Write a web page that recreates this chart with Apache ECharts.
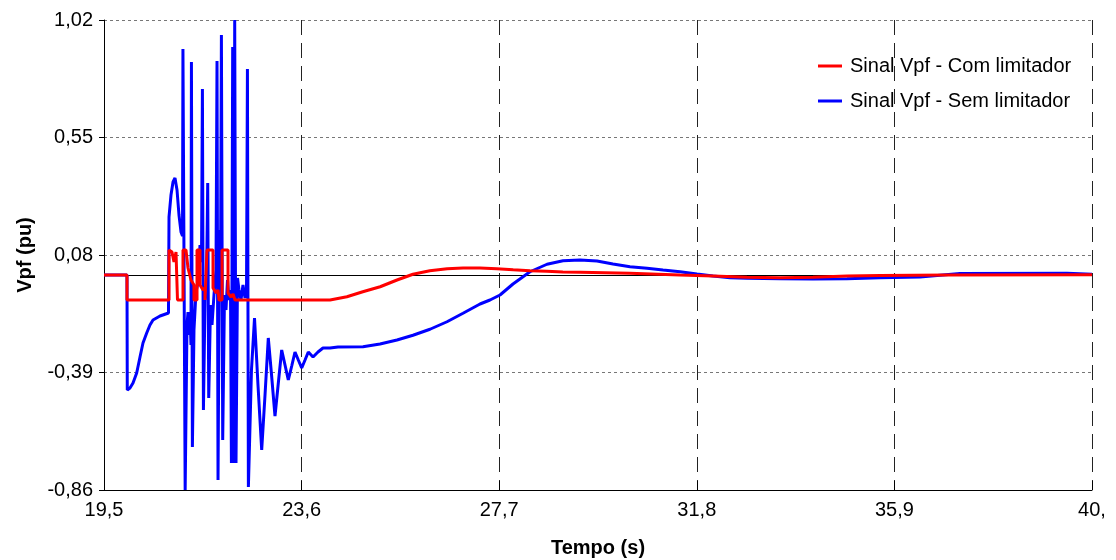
<!DOCTYPE html>
<html>
<head>
<meta charset="utf-8">
<title>Sinal Vpf</title>
<script src="https://cdn.jsdelivr.net/npm/echarts@6/dist/echarts.min.js"></script>
<style>
  html, body { margin: 0; padding: 0; background: #ffffff; }
  #chart { width: 1116px; height: 560px; }
</style>
</head>
<body>
<div id="chart"></div>
<script>
// Tick labels (Portuguese decimal comma)
const xTickLabels = ['19,5', '23,6', '27,7', '31,8', '35,9', '40,'];
const yTickLabels = ['-0,86', '-0,39', '0,08', '0,55', '1,02'];

// Sinal Vpf - Com limitador: time (s) and value (pu)
const comTime = [19.5, 19.977, 19.977, 20.849, 20.849, 20.911, 20.952, 20.994, 21.025, 21.025,
  21.139, 21.139, 21.201, 21.243, 21.305, 21.367, 21.367, 21.43, 21.43, 21.492,
  21.492, 21.554, 21.596, 21.596, 21.637, 21.637, 21.762, 21.762, 21.824, 21.866,
  21.886, 21.949, 21.949, 22.073, 22.073, 22.135, 22.177, 22.218, 24.19, 24.54,
  24.87, 25.23, 25.58, 25.91, 26.26, 26.62, 26.95, 27.3, 27.65, 27.99,
  28.34, 28.69, 29.02, 29.38, 30.41, 31.45, 32.14, 32.84, 33.53, 34.21,
  34.92, 35.6, 37.0, 40.0];
const comVpf = [0.0, 0.0, -0.10, -0.10, 0.10, 0.092, 0.052, 0.092, 0.10, -0.10,
  -0.10, 0.10, 0.10, 0.028, -0.02, -0.04, -0.10, -0.10, 0.10, 0.10,
  -0.04, -0.06, -0.052, -0.10, -0.10, 0.10, 0.10, -0.052, -0.072, -0.06,
  -0.10, -0.10, 0.10, 0.10, -0.072, -0.088, -0.076, -0.10, -0.10, -0.087,
  -0.067, -0.047, -0.02, 0.003, 0.017, 0.025, 0.028, 0.028, 0.025, 0.021,
  0.017, 0.015, 0.012, 0.011, 0.007, 0.0, -0.004, -0.009, -0.011, -0.009,
  -0.004, -0.002, 0.0, 0.001];

// Sinal Vpf - Sem limitador: time (s) and value (pu)
const semTime = [19.5, 19.977, 19.983, 20.039, 20.102, 20.178, 20.247, 20.309, 20.386, 20.454,
  20.517, 20.662, 20.838, 20.849, 20.89, 20.932, 20.973, 21.015, 21.056, 21.098,
  21.129, 21.138, 21.154, 21.184, 21.198, 21.222, 21.243, 21.264, 21.284, 21.305,
  21.314, 21.326, 21.334, 21.346, 21.367, 21.409, 21.45, 21.492, 21.523, 21.542,
  21.554, 21.563, 21.575, 21.596, 21.627, 21.652, 21.664, 21.673, 21.685, 21.71,
  21.741, 21.782, 21.824, 21.845, 21.857, 21.866, 21.878, 21.897, 21.917, 21.936,
  21.948, 21.963, 21.975, 22.0, 22.031, 22.063, 22.094, 22.125, 22.144, 22.156,
  22.17, 22.191, 22.212, 22.224, 22.239, 22.251, 22.27, 22.301, 22.342, 22.384,
  22.426, 22.457, 22.476, 22.488, 22.496, 22.508, 22.56, 22.623, 22.695, 22.772,
  22.841, 22.909, 22.98, 23.048, 23.117, 23.187, 23.256, 23.324, 23.395, 23.463,
  23.532, 23.602, 23.671, 23.739, 23.837, 23.94, 24.044, 24.189, 24.355, 24.874,
  25.227, 25.579, 25.911, 26.264, 26.617, 26.949, 27.302, 27.509, 27.717, 27.986,
  28.339, 28.692, 29.024, 29.377, 29.729, 30.061, 30.414, 30.767, 31.099, 31.452,
  31.804, 32.136, 32.489, 32.842, 33.527, 34.211, 34.917, 35.601, 36.431, 37.261,
  39.481, 40.0];
const semVpf = [0.0, 0.0, -0.46, -0.452, -0.432, -0.392, -0.328, -0.272, -0.232, -0.20,
  -0.18, -0.164, -0.152, 0.232, 0.32, 0.372, 0.388, 0.34, 0.24, 0.172,
  0.156, 0.904, 0.904, -0.86, -0.86, -0.20, -0.148, -0.24, -0.16, -0.28,
  0.852, 0.852, -0.688, -0.688, -0.22, -0.068, -0.032, 0.12, 0.052, 0.744,
  0.744, -0.54, -0.54, -0.10, -0.04, 0.368, 0.368, -0.492, -0.492, -0.12,
  -0.20, -0.08, 0.02, 0.856, 0.856, -0.82, -0.82, 0.18, -0.06, 0.96,
  0.96, -0.66, -0.66, -0.08, -0.14, -0.02, -0.10, -0.06, -0.752, -0.752,
  0.912, -0.752, 1.02, 1.02, -0.752, -0.752, -0.012, -0.06, -0.10, -0.04,
  -0.092, -0.06, 0.824, 0.824, -0.848, -0.848, -0.38, -0.172, -0.44, -0.70,
  -0.48, -0.252, -0.408, -0.564, -0.432, -0.30, -0.36, -0.42, -0.364, -0.308,
  -0.34, -0.372, -0.34, -0.308, -0.328, -0.308, -0.292, -0.292, -0.288, -0.287,
  -0.276, -0.26, -0.241, -0.217, -0.187, -0.153, -0.116, -0.10, -0.08, -0.036,
  0.013, 0.043, 0.057, 0.06, 0.056, 0.044, 0.033, 0.027, 0.02, 0.013,
  0.004, -0.004, -0.011, -0.013, -0.015, -0.016, -0.015, -0.011, -0.008, 0.006,
  0.007, 0.003];

// Axis ranges; axes run from an origin at (T0, V0) so the ticks start at the minimum
const T0 = 19.5, T1 = 40.0, TSTEP = 4.1;
const V0 = -0.86, V1 = 1.02, VSTEP = 0.47;

function toPairs(ts, vs) {
  return ts.map((t, i) => [+(t - T0).toFixed(4), +(vs[i] - V0).toFixed(4)]);
}

const FONT = '"Liberation Sans", Arial, sans-serif';

const chart = echarts.init(document.getElementById('chart'), null, { renderer: 'canvas' });
chart.setOption({
  backgroundColor: '#ffffff',
  animation: false,
  grid: { left: 104, right: 24, top: 20, bottom: 70, containLabel: false, outerBoundsMode: 'none' },
  legend: {
    orient: 'vertical',
    left: 813,
    top: 51,
    itemGap: 15,
    itemWidth: 24,
    itemHeight: 3,
    icon: 'rect',
    textStyle: { fontFamily: FONT, fontSize: 20, color: '#000000', lineHeight: 20, padding: [0, 0, 0, 3] },
    data: ['Sinal Vpf - Com limitador', 'Sinal Vpf - Sem limitador']
  },
  xAxis: {
    type: 'value',
    min: 0,
    max: +(T1 - T0).toFixed(4),
    interval: TSTEP,
    name: 'Tempo (s)',
    nameLocation: 'middle',
    nameGap: 48,
    nameTextStyle: { fontFamily: FONT, fontSize: 20, fontWeight: 'bold', color: '#000000' },
    axisLine: { show: true, onZero: false, lineStyle: { color: '#000000', width: 1 } },
    axisTick: { show: true, inside: true, length: 9, lineStyle: { color: '#000000' } },
    axisLabel: {
      margin: 10,
      fontFamily: FONT, fontSize: 20, color: '#000000',
      formatter: (val, idx) => xTickLabels[idx] !== undefined ? xTickLabels[idx] : ''
    },
    splitLine: { show: true, lineStyle: { color: '#222222', width: 1, type: [15, 8] } }
  },
  yAxis: {
    type: 'value',
    min: 0,
    max: +(V1 - V0).toFixed(4),
    interval: VSTEP,
    name: 'Vpf (pu)',
    nameLocation: 'middle',
    nameGap: 69,
    nameTextStyle: { fontFamily: FONT, fontSize: 20, fontWeight: 'bold', color: '#000000' },
    axisLine: { show: true, onZero: false, lineStyle: { color: '#000000', width: 1 } },
    axisTick: { show: true, inside: false, length: 5, lineStyle: { color: '#000000' } },
    axisLabel: {
      margin: 11,
      fontFamily: FONT, fontSize: 20, color: '#000000',
      formatter: (val, idx) => yTickLabels[idx] !== undefined ? yTickLabels[idx] : ''
    },
    splitLine: { show: true, lineStyle: { color: '#777777', width: 1, type: [3, 3] } }
  },
  series: [
    {
      name: 'Sinal Vpf - Sem limitador',
      type: 'line',
      data: toPairs(semTime, semVpf),
      showSymbol: false,
      symbol: 'none',
      clip: true,
      color: '#0000ff',
      lineStyle: { color: '#0000ff', width: 3 },
      z: 3
    },
    {
      name: 'Sinal Vpf - Com limitador',
      type: 'line',
      data: toPairs(comTime, comVpf),
      showSymbol: false,
      symbol: 'none',
      clip: true,
      color: '#ff0000',
      lineStyle: { color: '#ff0000', width: 3 },
      z: 4,
      markLine: {
        silent: true,
        symbol: 'none',
        label: { show: false },
        lineStyle: { color: '#000000', width: 1, type: 'solid' },
        data: [{ yAxis: +(0 - V0).toFixed(4) }],
        z: 2
      }
    }
  ]
});
</script>
</body>
</html>
